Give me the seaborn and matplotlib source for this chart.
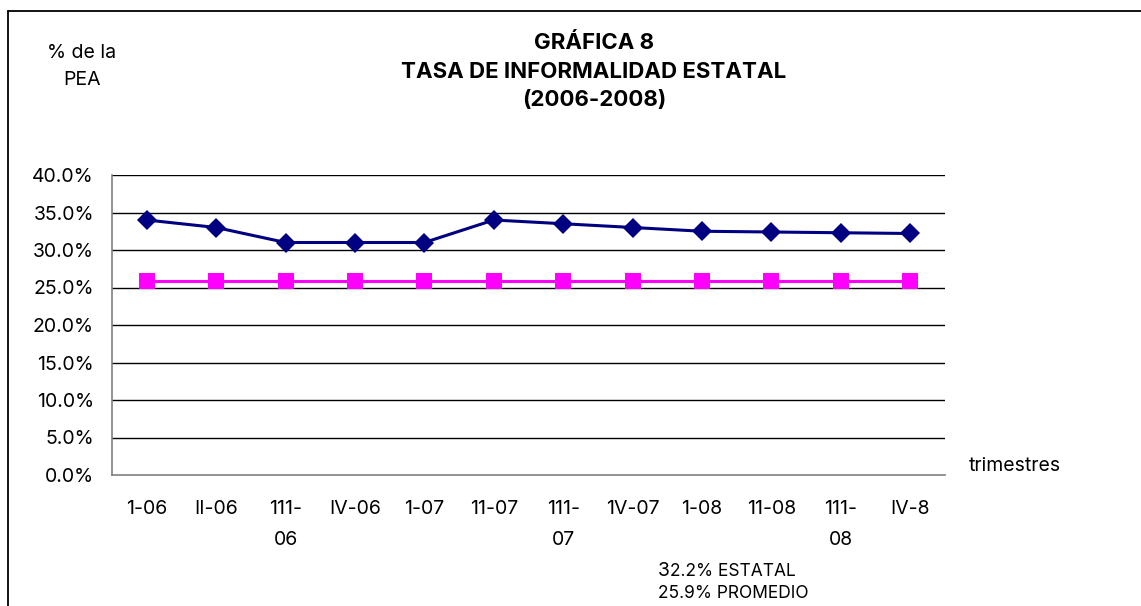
import matplotlib
matplotlib.use("Agg")
import matplotlib.pyplot as plt
import seaborn as sns
import pandas as pd
from matplotlib.lines import Line2D
from matplotlib.ticker import FuncFormatter, MultipleLocator

categories = ["1-06", "II-06", "111-\n06", "IV-06", "1-07", "11-07", "111-\n07",
              "1V-07", "1-08", "11-08", "111-\n08", "IV-8"]
estatal = [34.0, 33.0, 31.0, 31.0, 31.0, 34.0, 33.5, 33.0, 32.5, 32.4, 32.3, 32.2]
promedio = [25.9] * 12

sns.set_theme(style="white")
FONT = ['Inter', 'DejaVu Sans']
plt.rcParams['font.family'] = FONT
plt.rcParams['text.color'] = 'black'
plt.rcParams['xtick.color'] = 'black'
plt.rcParams['ytick.color'] = 'black'

W, H = 1141, 606
fig = plt.figure(figsize=(W / 100, H / 100), dpi=100)
L, R, T, B = 112, 945, 175, 475
ax = fig.add_axes([L / W, 1 - B / H, (R - L) / W, (B - T) / H])

df = pd.DataFrame({"pos": list(range(len(categories))), "estatal": estatal, "promedio": promedio})
pos = df["pos"].tolist()

sns.lineplot(data=df, x="pos", y="estatal", ax=ax, color="#000080", lw=2.2,
             marker="D", markersize=10, markeredgewidth=0, zorder=4)
sns.lineplot(data=df, x="pos", y="promedio", ax=ax, color="#FF00FF", lw=2.2,
             marker="s", markersize=11, markeredgewidth=0, zorder=3)

ax.set_xlim(-0.5, len(categories) - 0.5)
ax.set_ylim(0, 40)
ax.yaxis.set_major_locator(MultipleLocator(5))
ax.yaxis.set_major_formatter(FuncFormatter(lambda v, p: f"{v:.1f}%"))
ax.set_xticks(pos)
ax.set_xticklabels(categories, fontsize=14, linespacing=1.95, va="top", color="black")
ax.set_xticks([p - 0.5 for p in pos] + [len(pos) - 0.5], minor=True)
ax.tick_params(axis="x", which="major", length=0, pad=18)
ax.tick_params(axis="x", which="minor", length=6, width=1, color="#808080", direction="out")
ax.tick_params(axis="y", length=5, width=1, color="#808080", direction="out",
               labelsize=14, pad=8, labelcolor="black")
ax.set_xlabel("")
ax.set_ylabel("")

for v in range(5, 45, 5):
    ax.axhline(v, color="black", lw=1, zorder=1)

for s in ["top", "right"]:
    ax.spines[s].set_visible(False)
for s in ["left", "bottom"]:
    ax.spines[s].set_color("#808080")
    ax.spines[s].set_linewidth(1.2)

# outer frame (top and left edges visible)
fig.add_artist(Line2D([8 / W, 8 / W], [0, 1 - 11 / H], transform=fig.transFigure, color="black", lw=1.3))
fig.add_artist(Line2D([8 / W, 1], [1 - 11 / H, 1 - 11 / H], transform=fig.transFigure, color="black", lw=1.3))

fig.text(594 / W, 1 - 43 / H, "GRÁFICA 8", ha="center", va="center", fontsize=16, fontweight="bold")
fig.text(594 / W, 1 - 72 / H, "TASA DE INFORMALIDAD ESTATAL", ha="center", va="center", fontsize=16, fontweight="bold")
fig.text(594 / W, 1 - 100 / H, "(2006-2008)", ha="center", va="center", fontsize=16, fontweight="bold")
fig.text(82 / W, 1 - 53 / H, "% de la", ha="center", va="center", fontsize=14)
fig.text(82 / W, 1 - 80 / H, "PEA", ha="center", va="center", fontsize=14)
fig.text(969 / W, 1 - 466 / H, "trimestres", ha="left", va="center", fontsize=14)

t1 = fig.text(658 / W, 1 - 576 / H, "3", ha="left", va="baseline", fontsize=14)
fig.canvas.draw()
bb = t1.get_window_extent()
fig.text(bb.x1 / W, 1 - 576 / H, "2.2% ESTATAL", ha="left", va="baseline", fontsize=12.5)
fig.text(658 / W, 1 - 598 / H, "25.9% PROMEDIO", ha="left", va="baseline", fontsize=12.5)

fig.savefig("out.png", dpi=100)
